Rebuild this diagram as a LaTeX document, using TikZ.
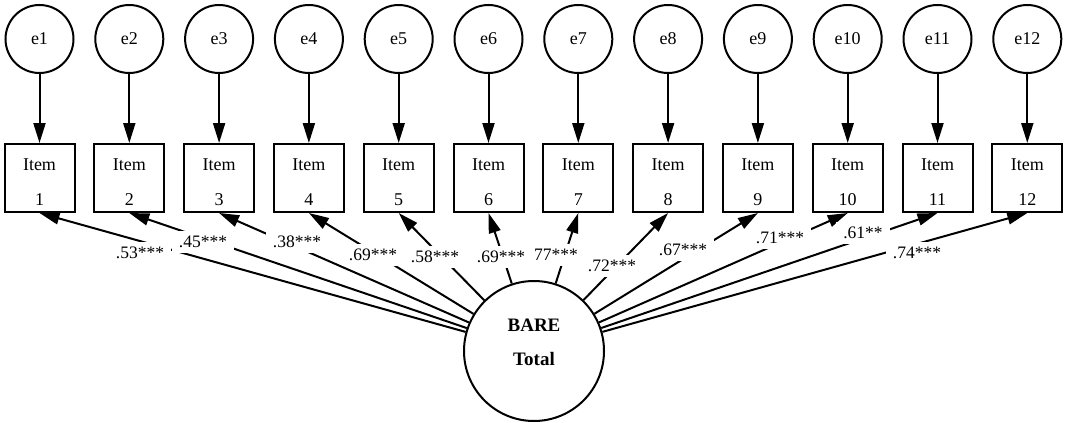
\documentclass[tikz,border=0pt]{standalone}
\usepackage{fontspec}
\setmainfont{Liberation Serif}
\usetikzlibrary{arrows.meta}
\begin{document}
\begin{tikzpicture}[x=1pt,y=-1pt,
  err/.style={circle,draw,line width=2pt,minimum size=68pt,inner sep=0pt,font=\fontsize{18}{20}\selectfont},
  itembox/.style={rectangle,draw,line width=2pt,minimum width=70pt,minimum height=68pt,inner sep=0pt},
  txt/.style={font=\fontsize{18}{20}\selectfont,inner sep=0pt},
  bigtxt/.style={font=\fontsize{19}{21}\selectfont\bfseries,inner sep=0pt},
  coef/.style={fill=white,inner xsep=7pt,inner ysep=5pt,font=\fontsize{17.5}{20}\selectfont},
  arr/.style={-{Triangle[length=20pt,width=12pt]},line width=2pt}]
\useasboundingbox (0,0) rectangle (1066,423);
\foreach \i in {1,...,12}{
  \pgfmathsetmacro\cx{39.5+89.8*(\i-1)}
  \node[err] (e\i) at (\cx,39) {e\i};
  \node[itembox] (b\i) at (\cx,178) {};
  \node[txt] (it\i) at (\cx,165) {Item};
  \node[txt] (n\i) at (\cx,200) {\i};
  \draw[arr] (e\i) -- (b\i);
}
\node[circle,draw,line width=2pt,minimum size=140pt,inner sep=0pt] (T) at (534,351) {};
\node[bigtxt] (t1) at (534,325) {BARE};
\node[bigtxt] (t2) at (534,359) {Total};
\foreach \i in {1,...,12}{
  \draw[arr] (T) -- (b\i.south);
}
\node[coef] (l1) at (140,253) {.53***};
\node[coef] (l2) at (203,242) {.45***};
\node[coef] (l3) at (297,242) {.38***};
\node[coef] (l4) at (373,255) {.69***};
\node[coef] (l5) at (435,257) {.58***};
\node[coef] (l6) at (501,257) {.69***};
\node[coef] (l7) at (556,255) {77***};
\node[coef] (l8) at (612,266) {.72***};
\node[coef] (l9) at (683,250) {.67***};
\node[coef] (l10) at (780,238) {.71***};
\node[coef] (l11) at (863,233) {.61**};
\node[coef] (l12) at (917,253) {.74***};
\end{tikzpicture}
\end{document}
